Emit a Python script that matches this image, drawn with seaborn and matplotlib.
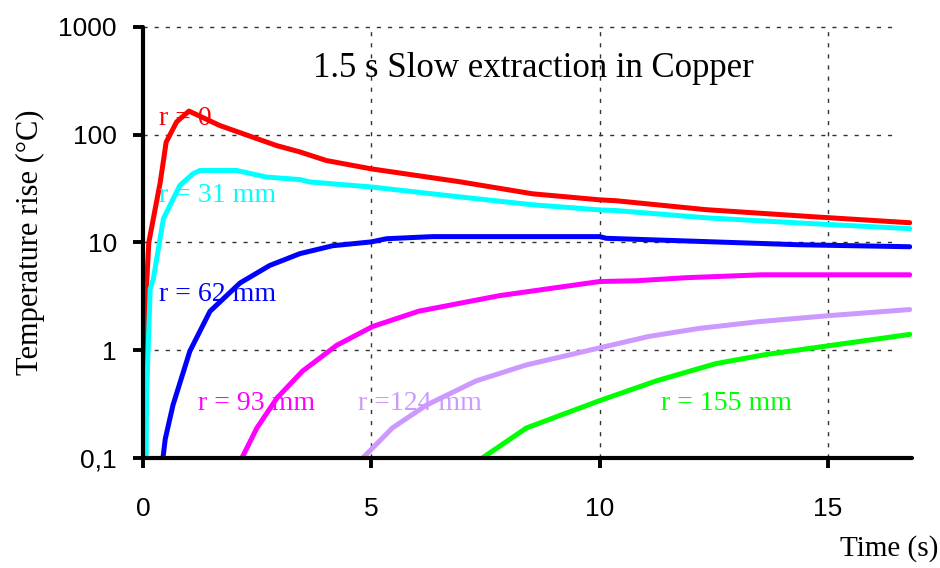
import matplotlib
matplotlib.use("Agg")
import matplotlib.pyplot as plt
import matplotlib.ticker as mticker
import numpy as np
import pandas as pd
import seaborn as sns

# Temperature rise vs time at several radii (1.5 s slow extraction, copper target)
t_r0 = [0.02, 0.04, 0.07, 0.12, 0.37, 0.50, 0.73, 1.00, 1.68, 2.92, 3.43, 4.01,
        5.00, 6.93, 8.53, 10.00, 10.37, 12.33, 14.66, 16.80]
v_r0 = [0.1, 0.5, 4.0, 10.0, 36.0, 85.0, 131.0, 165.0, 121.0, 79.0, 69.0, 57.4,
        48.0, 36.5, 28.2, 24.8, 24.3, 20.1, 17.3, 15.2]

t_r31 = [0.06, 0.07, 0.15, 0.22, 0.44, 0.80, 1.09, 1.24, 2.04, 2.70, 3.43, 3.65,
         5.00, 6.93, 8.53, 10.00, 10.37, 12.33, 14.66, 16.80]
v_r31 = [0.1, 0.38, 3.7, 4.6, 16.6, 33.7, 43.3, 46.4, 46.4, 40.3, 38.2, 36.3,
         32.6, 26.4, 22.3, 20.0, 19.7, 16.9, 14.9, 13.4]

t_r62 = [0.43, 0.48, 0.65, 1.02, 1.46, 2.12, 2.77, 3.43, 4.15, 5.00, 5.33,
         6.34, 10.00, 10.15, 12.20, 14.37, 16.80]
v_r62 = [0.1, 0.15, 0.31, 0.98, 2.29, 4.2, 6.1, 7.85, 9.3, 10.1, 10.8,
         11.3, 11.3, 10.9, 10.2, 9.5, 9.1]

t_r93 = [2.16, 2.49, 2.93, 3.49, 4.24, 5.03, 6.04, 7.80, 10.00, 10.80, 11.90,
         13.56, 16.80]
v_r93 = [0.1, 0.19, 0.36, 0.64, 1.11, 1.66, 2.3, 3.2, 4.33, 4.4, 4.7, 5.0, 5.0]

t_r124 = [4.81, 5.46, 6.21, 7.30, 8.40, 10.00, 11.08, 12.18, 13.50, 15.03, 16.80]
v_r124 = [0.1, 0.19, 0.31, 0.52, 0.73, 1.05, 1.34, 1.59, 1.84, 2.09, 2.38]

t_r155 = [7.43, 8.40, 10.00, 11.25, 12.55, 13.64, 15.03, 16.80]
v_r155 = [0.1, 0.19, 0.34, 0.52, 0.75, 0.91, 1.10, 1.40]

radius_labels = ["r = 0", "r = 31 mm", "r = 62 mm", "r = 93 mm", "r =124 mm", "r = 155 mm"]
colors = ["#FF0000", "#00FFFF", "#0000FF", "#FF00FF", "#CC99FF", "#00FF00"]

y_ticks = [0.1, 1, 10, 100, 1000]
y_tick_labels = ["0,1", "1", "10", "100", "1000"]
x_ticks = [0, 5, 10, 15]

series = [(t_r0, v_r0), (t_r31, v_r31), (t_r62, v_r62),
          (t_r93, v_r93), (t_r124, v_r124), (t_r155, v_r155)]
frames = []
for lab, (t, v) in zip(radius_labels, series):
    frames.append(pd.DataFrame({"time": t, "rise": v, "radius": lab}))
df = pd.concat(frames, ignore_index=True)

sns.set_theme(style="white")
plt.rcParams["font.family"] = ["Liberation Serif", "DejaVu Serif"]

fig = plt.figure(figsize=(9.4, 5.68), dpi=100)
ax = fig.add_axes([0.1525, 0.1937, 0.8177, 0.7593])

sns.lineplot(data=df, x="time", y="rise", hue="radius", hue_order=radius_labels,
             palette=colors, estimator=None, sort=False, linewidth=3.6,
             legend=False, ax=ax, solid_capstyle="round")

ax.set_yscale("log")
ax.set_ylim(0.1, 1000)
ax.set_xlim(0, 16.85)

# dashed grid
xmax_frac = 16.5 / 16.85
for yv in [1, 10, 100, 1000]:
    ax.axhline(yv, xmin=0, xmax=xmax_frac, color="#333333", lw=1.0,
               ls=(0, (3, 5)), zorder=0, clip_on=False)
for xv in [5, 10, 15]:
    ax.axvline(xv, color="#333333", lw=1.0, ls=(0, (3, 5)), zorder=0)

ax.set_yticks(y_ticks)
ax.set_yticklabels(y_tick_labels)
ax.yaxis.set_minor_locator(mticker.NullLocator())
ax.set_xticks(x_ticks)
ax.set_xticklabels([str(x) for x in x_ticks])

for lbl in ax.get_xticklabels() + ax.get_yticklabels():
    lbl.set_fontfamily("Liberation Sans")
    lbl.set_fontsize(19)
    lbl.set_color("black")

ax.tick_params(axis="y", which="major", direction="out", length=7, width=2.8,
               color="black", pad=12, left=True)
ax.tick_params(axis="x", which="major", direction="out", length=7, width=2.8,
               color="black", pad=21, bottom=True)

for side in ["top", "right"]:
    ax.spines[side].set_visible(False)
for side in ["left", "bottom"]:
    ax.spines[side].set_color("black")
    ax.spines[side].set_linewidth(3.0)
    ax.spines[side].set_capstyle("round")

ax.set_xlabel("")
ax.set_ylabel("Temperature rise (°C)", fontsize=22, color="black")
ax.yaxis.set_label_coords(-0.128, 0.5)

fig.text(0.9455, 0.035, "Time (s)", fontsize=21, ha="center", va="center", color="black")
ax.text(8.55, 410, "1.5 s Slow extraction in Copper", fontsize=25, ha="center",
        va="center", color="black")

# curve labels
label_pos = [(0.35, 140), (0.35, 27), (0.35, 3.3), (1.2, 0.32), (4.7, 0.32), (11.35, 0.32)]
for lab, col, (xl, yl) in zip(radius_labels, colors, label_pos):
    ax.text(xl, yl, lab, fontsize=20, color=col, ha="left", va="center")

fig.savefig("out.png", dpi=100)
